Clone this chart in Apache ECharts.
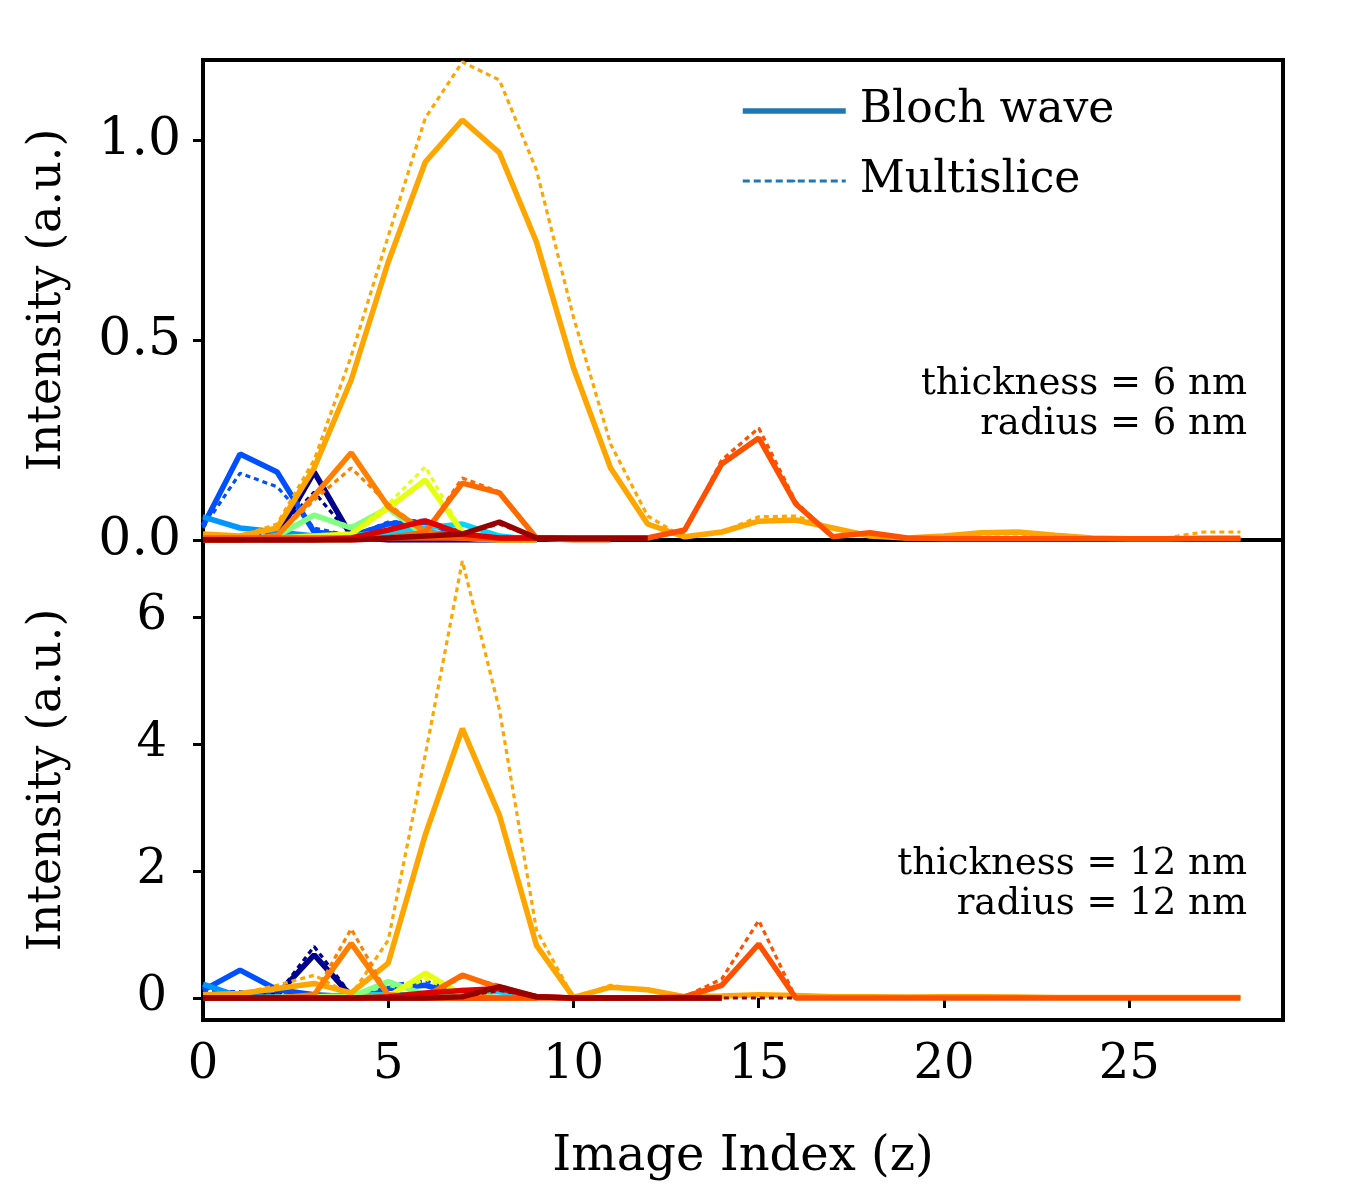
<!DOCTYPE html>
<html>
<head>
<meta charset="utf-8">
<script src="https://cdn.jsdelivr.net/npm/echarts@6/dist/echarts.min.js"></script>
<style>
html,body{margin:0;padding:0;background:#fff}
#chart{width:1350px;height:1200px}
</style>
</head>
<body>
<div id="chart"></div>
<script>
// tick labels
var xTicks = [0, 5, 10, 15, 20, 25];
var yTicksTop = [0, 0.5, 1.0];
var yTicksBottom = [0, 2, 4, 6];

// beam colours (jet colormap)
var beamColors = ['#00008f', '#0050ff', '#0096ff', '#00d4ff', '#80ff80', '#e6ff10',
                  '#ffa500', '#ff8000', '#ff6a00', '#ff5000', '#e00000', '#990000'];

// top panel: thickness = 6 nm (bw = Bloch wave, ms = Multislice), index = image z
var t_navy_bw   = [0, 0, 0.01, 0.17, 0.01, 0, 0, 0, 0, 0];
var t_navy_ms   = [0, 0, 0.02, 0.12, 0.01, 0, 0, 0, 0, 0];
var t_blue_bw   = [0.035, 0.215, 0.17, 0.02, 0.01, 0.04, 0.045, 0.01, 0.005, 0];
var t_blue_ms   = [0.03, 0.167, 0.133, 0.03, 0.01, 0.045, 0.05, 0.02, 0.005, 0];
var t_lblue_bw  = [0.058, 0.03, 0.02, 0.01, 0.005, 0.01, 0.02, 0.01, 0, 0];
var t_lblue_ms  = [0.06, 0.03, 0.02, 0.01, 0.005, 0.01, 0.02, 0.01, 0, 0];
var t_cyan_bw   = [0.01, 0.005, 0.005, 0.01, 0.01, 0.02, 0.03, 0.04, 0.01, 0];
var t_cyan_ms   = [0.01, 0.005, 0.005, 0.01, 0.01, 0.025, 0.035, 0.04, 0.01, 0];
var t_green_bw  = [0, 0, 0.01, 0.062, 0.03, 0.08, 0.01, 0.005, 0, 0];
var t_green_ms  = [0, 0, 0.01, 0.06, 0.035, 0.075, 0.01, 0.005, 0, 0];
var t_yellow_bw = [0, 0, 0.005, 0.01, 0.015, 0.08, 0.15, 0.02, 0, 0];
var t_yellow_ms = [0, 0, 0.005, 0.01, 0.015, 0.09, 0.183, 0.02, 0, 0];
var t_orange_bw = [0.015, 0.01, 0.03, 0.18, 0.40, 0.695, 0.945, 1.05, 0.968, 0.745, 0.43, 0.18, 0.04, 0.008, 0.02,
                   0.047, 0.05, 0.03, 0.01, 0.005, 0.01, 0.018, 0.02, 0.012, 0.005, 0.003, 0.003, 0.005, 0.005];
var t_orange_ms = [0.015, 0.01, 0.04, 0.20, 0.46, 0.76, 1.055, 1.195, 1.15, 0.925, 0.557, 0.24, 0.06, 0.005, 0.02,
                   0.058, 0.06, 0.03, 0.01, 0.005, 0.01, 0.015, 0.015, 0.01, 0.005, 0.003, 0.005, 0.02, 0.02];
var t_dorange_bw = [0, 0, 0.01, 0.11, 0.218, 0.083, 0.02, 0.005, 0, 0];
var t_dorange_ms = [0, 0, 0.01, 0.10, 0.18, 0.09, 0.02, 0.005, 0, 0];
var t_orange2_bw = [0, 0, 0, 0, 0, 0.005, 0.02, 0.142, 0.118, 0.005, 0, 0];
var t_orange2_ms = [0, 0, 0, 0, 0, 0.005, 0.02, 0.155, 0.12, 0.005, 0, 0];
var t_rorange_bw = [0.005, 0.005, 0.005, 0.005, 0.005, 0.005, 0.005, 0.005, 0.005, 0.005, 0.005, 0.005, 0.005, 0.025, 0.19,
                    0.255, 0.09, 0.008, 0.018, 0.005, 0.003, 0.003, 0.003, 0.003, 0.003, 0.003, 0.003, 0.003, 0.003];
var t_rorange_ms = [0.005, 0.005, 0.005, 0.005, 0.005, 0.005, 0.005, 0.005, 0.005, 0.005, 0.005, 0.005, 0.005, 0.02, 0.20,
                    0.28, 0.095, 0.008, 0.015, 0.005, 0.003, 0.003, 0.003, 0.003, 0.003, 0.003, 0.003, 0.003, 0.003];
var t_red_bw    = [0, 0, 0, 0, 0.005, 0.025, 0.048, 0.015, 0.005, 0.005, 0.005, 0.005, 0.005];
var t_red_ms    = [0, 0, 0, 0, 0.005, 0.025, 0.045, 0.015, 0.005, 0.005, 0.005, 0.005, 0.005];
var t_dred_bw   = [0, 0, 0, 0, 0, 0.005, 0.01, 0.015, 0.045, 0.005, 0.003, 0.003, 0.003];
var t_dred_ms   = [0, 0, 0, 0, 0, 0.005, 0.01, 0.015, 0.04, 0.005, 0.003, 0.003, 0.003];

// bottom panel: thickness = 12 nm
var b_navy_bw   = [0, 0, 0.05, 0.68, 0.03, 0, 0, 0, 0, 0];
var b_navy_ms   = [0, 0, 0.05, 0.81, 0.05, 0, 0, 0, 0, 0];
var b_blue_bw   = [0.12, 0.44, 0.13, 0.05, 0.02, 0.15, 0.2, 0.05, 0, 0];
var b_blue_ms   = [0.1, 0.1, 0.05, 0.05, 0.02, 0.2, 0.27, 0.08, 0, 0];
var b_lblue_bw  = [0.22, 0.02, 0.01, 0.01, 0.01, 0.05, 0.05, 0.03, 0, 0];
var b_lblue_ms  = [0.2, 0.02, 0.01, 0.01, 0.01, 0.05, 0.05, 0.03, 0, 0];
var b_cyan_bw   = [0.02, 0.01, 0.01, 0.02, 0.05, 0.05, 0.05, 0.12, 0.1, 0.01];
var b_cyan_ms   = [0.02, 0.01, 0.01, 0.02, 0.05, 0.05, 0.06, 0.12, 0.1, 0.01];
var b_green_bw  = [0, 0, 0.01, 0.02, 0.02, 0.26, 0.05, 0.02, 0, 0];
var b_green_ms  = [0, 0, 0.01, 0.02, 0.02, 0.2, 0.05, 0.02, 0, 0];
var b_yellow_bw = [0, 0, 0.01, 0.02, 0.01, 0.02, 0.39, 0.05, 0, 0];
var b_yellow_ms = [0, 0, 0.01, 0.02, 0.01, 0.03, 0.3, 0.05, 0, 0];
var b_orange_bw = [0.05, 0.07, 0.15, 0.23, 0.08, 0.55, 2.57, 4.24, 2.88, 0.83, 0.01, 0.17, 0.13, 0.02, 0.03,
                   0.05, 0.04, 0.02, 0.02, 0.015, 0.02, 0.02, 0.015, 0.01, 0.01, 0.01, 0.01, 0.01, 0.01];
var b_orange_ms = [0.05, 0.07, 0.2, 0.36, 0.05, 0.91, 3.83, 6.88, 4.54, 1.07, 0.0, 0.2, 0.12, 0.02, 0.03,
                   0.05, 0.04, 0.02, 0.02, 0.015, 0.02, 0.02, 0.015, 0.01, 0.01, 0.01, 0.01, 0.01, 0.01];
var b_dorange_bw = [0, 0, 0, 0.05, 0.86, 0.05, 0.01, 0, 0, 0];
var b_dorange_ms = [0, 0, 0, 0.05, 1.09, 0.05, 0.01, 0, 0, 0];
var b_orange2_bw = [0, 0, 0, 0, 0, 0.01, 0.02, 0.36, 0.16, 0.02, 0, 0];
var b_orange2_ms = [0, 0, 0, 0, 0, 0.01, 0.02, 0.33, 0.2, 0.02, 0, 0];
var b_rorange_bw = [0, 0, 0, 0, 0, 0, 0, 0, 0, 0, 0, 0, 0, 0.02, 0.2,
                    0.85, 0, 0, 0, 0, 0, 0, 0, 0, 0, 0, 0, 0, 0];
var b_rorange_ms = [0, 0, 0, 0, 0, 0, 0, 0, 0, 0, 0, 0, 0, 0.02, 0.3, 1.22, 0, 0, 0];
var b_red_bw    = [0, 0, 0, 0, 0, 0.02, 0.08, 0.12, 0.15, 0.02, 0, 0, 0, 0, 0];
var b_red_ms    = [0, 0, 0, 0, 0, 0.02, 0.08, 0.12, 0.14, 0.02, 0, 0, 0, 0, 0];
var b_dred_bw   = [0, 0, 0, 0, 0, 0, 0, 0.02, 0.18, 0.02, 0, 0, 0, 0, 0];
var b_dred_ms   = [0, 0, 0, 0, 0, 0, 0, 0.02, 0.12, 0.02, 0, 0, 0, 0, 0, 0, 0];

var topBw = [t_navy_bw, t_blue_bw, t_lblue_bw, t_cyan_bw, t_green_bw, t_yellow_bw, t_orange_bw, t_dorange_bw, t_orange2_bw, t_rorange_bw, t_red_bw, t_dred_bw];
var topMs = [t_navy_ms, t_blue_ms, t_lblue_ms, t_cyan_ms, t_green_ms, t_yellow_ms, t_orange_ms, t_dorange_ms, t_orange2_ms, t_rorange_ms, t_red_ms, t_dred_ms];
var botBw = [b_navy_bw, b_blue_bw, b_lblue_bw, b_cyan_bw, b_green_bw, b_yellow_bw, b_orange_bw, b_dorange_bw, b_orange2_bw, b_rorange_bw, b_red_bw, b_dred_bw];
var botMs = [b_navy_ms, b_blue_ms, b_lblue_ms, b_cyan_ms, b_green_ms, b_yellow_ms, b_orange_ms, b_dorange_ms, b_orange2_ms, b_rorange_ms, b_red_ms, b_dred_ms];

var FONT = 'DejaVu Serif';
var chart = echarts.init(document.getElementById('chart'));

function toPoints(arr) {
    return arr.map(function (v, i) { return [i, v]; });
}
function lineSeries(arr, color, panel, dotted) {
    return {
        type: 'line',
        xAxisIndex: panel,
        yAxisIndex: panel,
        data: toPoints(arr),
        symbol: 'none',
        silent: true,
        lineStyle: dotted ? {color: color, width: 3.2, type: [5, 4]} : {color: color, width: 5.5},
        itemStyle: {color: color}
    };
}

var series = [];
[[topBw, topMs, 0], [botBw, botMs, 1]].forEach(function (p) {
    for (var k = 0; k < beamColors.length; k++) {
        series.push(lineSeries(p[0][k], beamColors[k], p[2], false));
        series.push(lineSeries(p[1][k], beamColors[k], p[2], true));
    }
});
// legend entries only
series.push({type: 'line', name: 'Bloch wave', data: [], symbol: 'none', xAxisIndex: 0, yAxisIndex: 0,
    lineStyle: {color: '#1f77b4', width: 5.5}, itemStyle: {color: '#1f77b4'}});
series.push({type: 'line', name: 'Multislice', data: [], symbol: 'none', xAxisIndex: 0, yAxisIndex: 0,
    lineStyle: {color: '#1f77b4', width: 3.2, type: [7, 4]}, itemStyle: {color: '#1f77b4'}});

var tickStyle = {length: 10, lineStyle: {color: '#000', width: 3}};
var labelStyle = {color: '#000', fontSize: 48, fontFamily: FONT};
var annoFont = '37px "DejaVu Serif"';

var option = {
    animation: false,
    backgroundColor: '#fff',
    textStyle: {fontFamily: FONT},
    grid: [
        {left: 203, right: 67, top: 60, height: 480, show: true, borderColor: '#000', borderWidth: 4},
        {left: 203, right: 67, top: 540, height: 480, show: true, borderColor: '#000', borderWidth: 4}
    ],
    legend: {
        orient: 'vertical',
        left: 735,
        top: 84,
        itemWidth: 103,
        itemHeight: 3,
        itemGap: 26,
        itemStyle: {borderWidth: 0},
        textStyle: {color: '#000', fontSize: 44, fontFamily: FONT, padding: [0, 0, 0, 9]},
        data: [
            {name: 'Bloch wave', lineStyle: {width: 5.5}},
            {name: 'Multislice', lineStyle: {width: 3.2, type: [7, 4]}}
        ]
    },
    xAxis: [
        {gridIndex: 0, type: 'value', min: 0, max: 29.15,
            axisLine: {show: false}, axisTick: {show: false}, axisLabel: {show: false}, splitLine: {show: false}},
        {gridIndex: 1, type: 'value', min: 0, max: 29.15,
            axisLine: {show: false},
            axisTick: Object.assign({show: true, customValues: xTicks}, tickStyle),
            axisLabel: Object.assign({customValues: xTicks, margin: 22}, labelStyle),
            splitLine: {show: false},
            name: 'Image Index (z)', nameLocation: 'middle', nameGap: 114,
            nameTextStyle: {color: '#000', fontSize: 48, fontFamily: FONT}}
    ],
    yAxis: [
        {gridIndex: 0, type: 'value', min: 0, max: 1.2,
            axisLine: {show: false},
            axisTick: Object.assign({show: true, customValues: yTicksTop}, tickStyle),
            axisLabel: Object.assign({customValues: yTicksTop, margin: 22,
                formatter: function (v) { return v.toFixed(1); }}, labelStyle, {fontSize: 52}),
            splitLine: {show: false},
            name: 'Intensity (a.u.)', nameLocation: 'middle', nameGap: 132, nameRotate: 90,
            nameTextStyle: {color: '#000', fontSize: 46, fontFamily: FONT}},
        {gridIndex: 1, type: 'value', min: -0.346, max: 7.21,
            axisLine: {show: false},
            axisTick: Object.assign({show: true, customValues: yTicksBottom}, tickStyle),
            axisLabel: Object.assign({customValues: yTicksBottom, margin: 36}, labelStyle),
            splitLine: {show: false},
            name: 'Intensity (a.u.)', nameLocation: 'middle', nameGap: 132, nameRotate: 90,
            nameTextStyle: {color: '#000', fontSize: 46, fontFamily: FONT}}
    ],
    graphic: [
        {type: 'text', right: 103, top: 366, style: {text: 'thickness = 6 nm', fill: '#000', font: annoFont, textAlign: 'right'}},
        {type: 'text', right: 103, top: 406, style: {text: 'radius = 6 nm', fill: '#000', font: annoFont, textAlign: 'right'}},
        {type: 'text', right: 103, top: 846, style: {text: 'thickness = 12 nm', fill: '#000', font: annoFont, textAlign: 'right'}},
        {type: 'text', right: 103, top: 886, style: {text: 'radius = 12 nm', fill: '#000', font: annoFont, textAlign: 'right'}}
    ],
    series: series
};
chart.setOption(option);
</script>
</body>
</html>
